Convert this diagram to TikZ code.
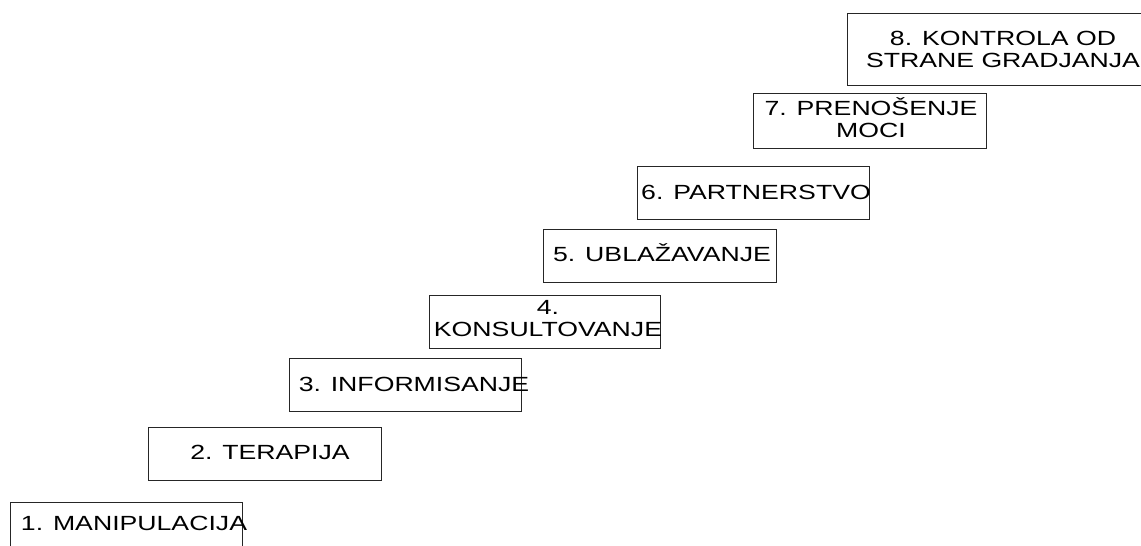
\documentclass[tikz,border=0pt]{standalone}
\usepackage{fontspec}
\setmainfont{Liberation Sans}
\newcommand{\stx}[1]{\scalebox{1.3}[1]{\begin{tabular}{@{}c@{}}#1\end{tabular}}}
\begin{document}
\begin{tikzpicture}[x=1pt,y=-1pt,
  stepbox/.style={draw=black!85,line width=0.9pt,inner sep=0pt,outer sep=0pt},
  steptext/.style={inner sep=0pt,font=\fontsize{20.5}{22}\selectfont}]
\useasboundingbox (0,0) rectangle (1141,546);
\clip (0,0) rectangle (1141,546);
% boxes
\draw[stepbox] (10,502) rectangle (242,560);
\draw[stepbox] (148,427) rectangle (381,480);
\draw[stepbox] (289,358) rectangle (521,411);
\draw[stepbox] (429,295) rectangle (660,348);
\draw[stepbox] (543,229) rectangle (776,282);
\draw[stepbox] (637,166) rectangle (869,219);
\draw[stepbox] (753,93) rectangle (986,148);
\draw[stepbox] (847,13) rectangle (1150,85);
% texts
\node[steptext] (t1) at (134,526) {\stx{1. MANIPULACIJA}};
\node[steptext] (t2) at (270,455) {\stx{2. TERAPIJA}};
\node[steptext] (t3) at (414,387) {\stx{3. INFORMISANJE}};
\node[steptext] (t4) at (548,321) {\stx{4.\\KONSULTOVANJE}};
\node[steptext] (t5) at (662,256) {\stx{5. UBLAŽAVANJE}};
\node[steptext] (t6) at (756,195) {\stx{6. PARTNERSTVO}};
\node[steptext] (t7) at (871,121) {\stx{7. PRENOŠENJE\\MOCI}};
\node[steptext] (t8) at (1003,52) {\stx{8. KONTROLA OD\\STRANE GRADJANJA}};
\end{tikzpicture}
\end{document}
